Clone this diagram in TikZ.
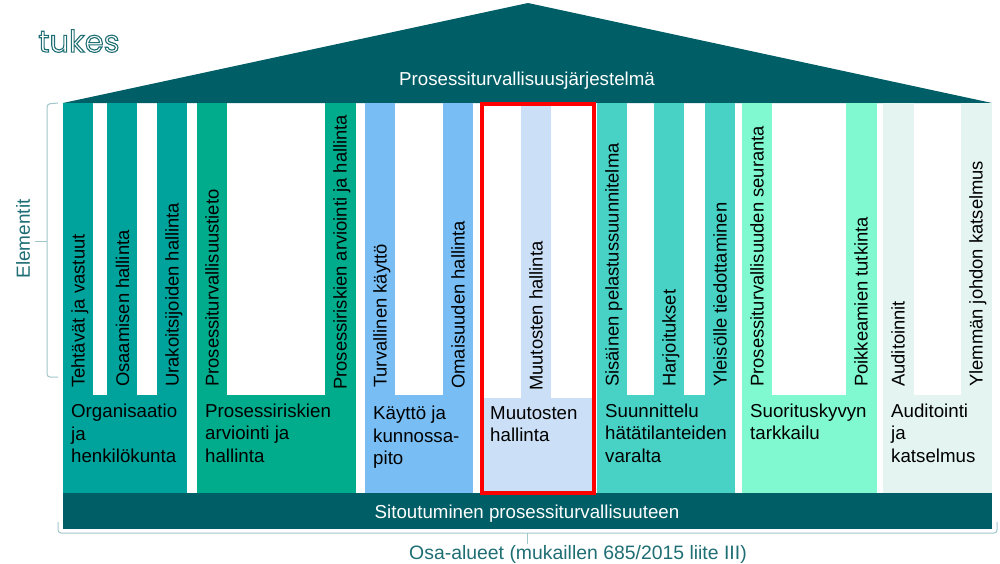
\documentclass[tikz,border=0pt]{standalone}
\usepackage{fontspec}
\setmainfont{Liberation Sans}
\newfontfamily\logofont{Poppins}
\usetikzlibrary{positioning}
\definecolor{tukesdark}{RGB}{0, 94, 102}
\definecolor{tukeslabel}{RGB}{30, 110, 115}
\definecolor{tukesline}{RGB}{160, 198, 202}
\definecolor{orgcol}{RGB}{0, 163, 155}
\definecolor{riskcol}{RGB}{0, 172, 140}
\definecolor{usecol}{RGB}{120, 190, 245}
\definecolor{changecol}{RGB}{203, 224, 246}
\definecolor{plancol}{RGB}{72, 210, 198}
\definecolor{trackcol}{RGB}{128, 248, 208}
\definecolor{auditcol}{RGB}{228, 245, 241}
\tikzset{
  elem/.style={rotate=90, anchor=west, inner sep=0pt, text height=13pt, text depth=4pt, font=\fontsize{18.4}{18.4}\selectfont},
  area/.style={anchor=north west, inner sep=0pt, align=left, font=\fontsize{18.7}{22.4}\selectfont},
  brace/.style={draw=tukesline, line width=1pt, rounded corners=3pt},
  caption/.style={text=tukeslabel, inner sep=0pt, font=\fontsize{19}{19}\selectfont}
}
\newcommand{\pillarshape}[5]{% colour, left, bar end, next bar start, right
  \fill[#1] (#2,103) rectangle (#3,395);
  \fill[#1] (#4,103) rectangle (#5,395);
  \fill[#1] (#2,395) rectangle (#5,493);
}
\begin{document}
\begin{tikzpicture}[x=1pt,y=-1pt]
  \useasboundingbox (0,0) rectangle (1000,563);
  % roof
  \fill[tukesdark] (63,103) -- (528,3) -- (992,103) -- cycle;
  \node[text=white, inner sep=0pt, font=\fontsize{18.7}{18.7}\selectfont] (roof) at (527,81) {Prosessiturvallisuusjärjestelmä};
  \node[inner sep=0pt, text=tukeslabel, font=\logofont\fontsize{30.5}{30.5}\selectfont] (logo) at (79,41) {\special{pdf:code 1 Tr 1.1 w}tukes\special{pdf:code 0 Tr}};
  % pillars
  \pillarshape{orgcol}{63}{93}{157}{187}
  \fill[orgcol] (107,103) rectangle (137,395);
  \pillarshape{riskcol}{197}{227}{325}{356}
  \pillarshape{usecol}{365}{395}{443}{473}
  \fill[changecol] (521,103) rectangle (551,398);
  \fill[changecol] (484,398) rectangle (592,491);
  \pillarshape{plancol}{597}{627}{705}{735}
  \fill[plancol] (654,103) rectangle (684,395);
  \pillarshape{trackcol}{742}{772}{846}{877}
  \pillarshape{auditcol}{883}{914}{961}{992}
  \draw[red, line width=4pt] (481.5,104) rectangle (594,493);
  % base
  \fill[tukesdark] (63,493) rectangle (992,529);
  \draw[red, line width=4pt] (479.5,493) -- (596,493);
  \node[text=white, inner sep=0pt, font=\fontsize{18.7}{18.7}\selectfont] (base) at (527,514) {Sitoutuminen prosessiturvallisuuteen};
  % element labels
  \node[elem] (e1) at (80,388) {Tehtävät ja vastuut};
  \node[elem] (e2) at (124.5,387) {Osaamisen hallinta};
  \node[elem] (e3) at (174,387) {Urakoitsijoiden hallinta};
  \node[elem] (e4) at (214,387) {Prosessiturvallisuustieto};
  \node[elem] (e5) at (342,390) {Prosessiriskien arviointi ja hallinta};
  \node[elem] (e6) at (382,388) {Turvallinen käyttö};
  \node[elem] (e7) at (460,389) {Omaisuuden hallinta};
  \node[elem] (e8) at (538,391) {Muutosten hallinta};
  \node[elem] (e9) at (614,387) {Sisäinen pelastussuunnitelma};
  \node[elem] (e10) at (671,387) {Harjoitukset};
  \node[elem] (e11) at (722,387) {Yleisölle tiedottaminen};
  \node[elem] (e12) at (759,387) {Prosessiturvallisuuden seuranta};
  \node[elem] (e13) at (863,387) {Poikkeamien tutkinta};
  \node[elem] (e14) at (900,387) {Auditoinnit};
  \node[elem] (e15) at (978,387) {Ylemmän johdon katselmus};
  % area labels
  \node[area] (a1) at (71,404) {Organisaatio\\ja\\henkilökunta};
  \node[area] (a2) at (205,403.5) {Prosessiriskien\\arviointi ja\\hallinta};
  \node[area] (a3) at (373,406) {Käyttö ja\\kunnossa-\\pito};
  \node[area] (a4) at (490,406) {Muutosten\\hallinta};
  \node[area] (a5) at (605,403.5) {Suunnittelu\\hätätilanteiden\\varalta};
  \node[area] (a6) at (750,403.5) {Suorituskyvyn\\tarkkailu};
  \node[area] (a7) at (891,403.5) {Auditointi\\ja\\katselmus};
  % braces
  \coordinate (bl) at (58,103);
  \coordinate (br) at (58,377);
  \draw[brace] (bl) -- (47,104) -- (47,377) -- (br);
  \coordinate (bm) at (47,241);
  \coordinate (bt) at (35,241);
  \draw[tukesline, line width=1pt] (bm) -- (bt);
  \node[caption, rotate=90] (elementit) at (23,239) {Elementit};
  \coordinate (fl) at (58,522);
  \coordinate (fr) at (997,522);
  \draw[brace] (fl) -- (58,533) -- (997,533) -- (fr);
  \node[caption, font=\fontsize{19.4}{19.4}\selectfont] (osa) at (578,554.5) {Osa-alueet (mukaillen 685/2015 liite III)};
  \coordinate (ft) at (527,533);
  \coordinate (fb) at (527,544);
  \draw[tukesline, line width=1pt] (ft) -- (fb);
\end{tikzpicture}
\end{document}
